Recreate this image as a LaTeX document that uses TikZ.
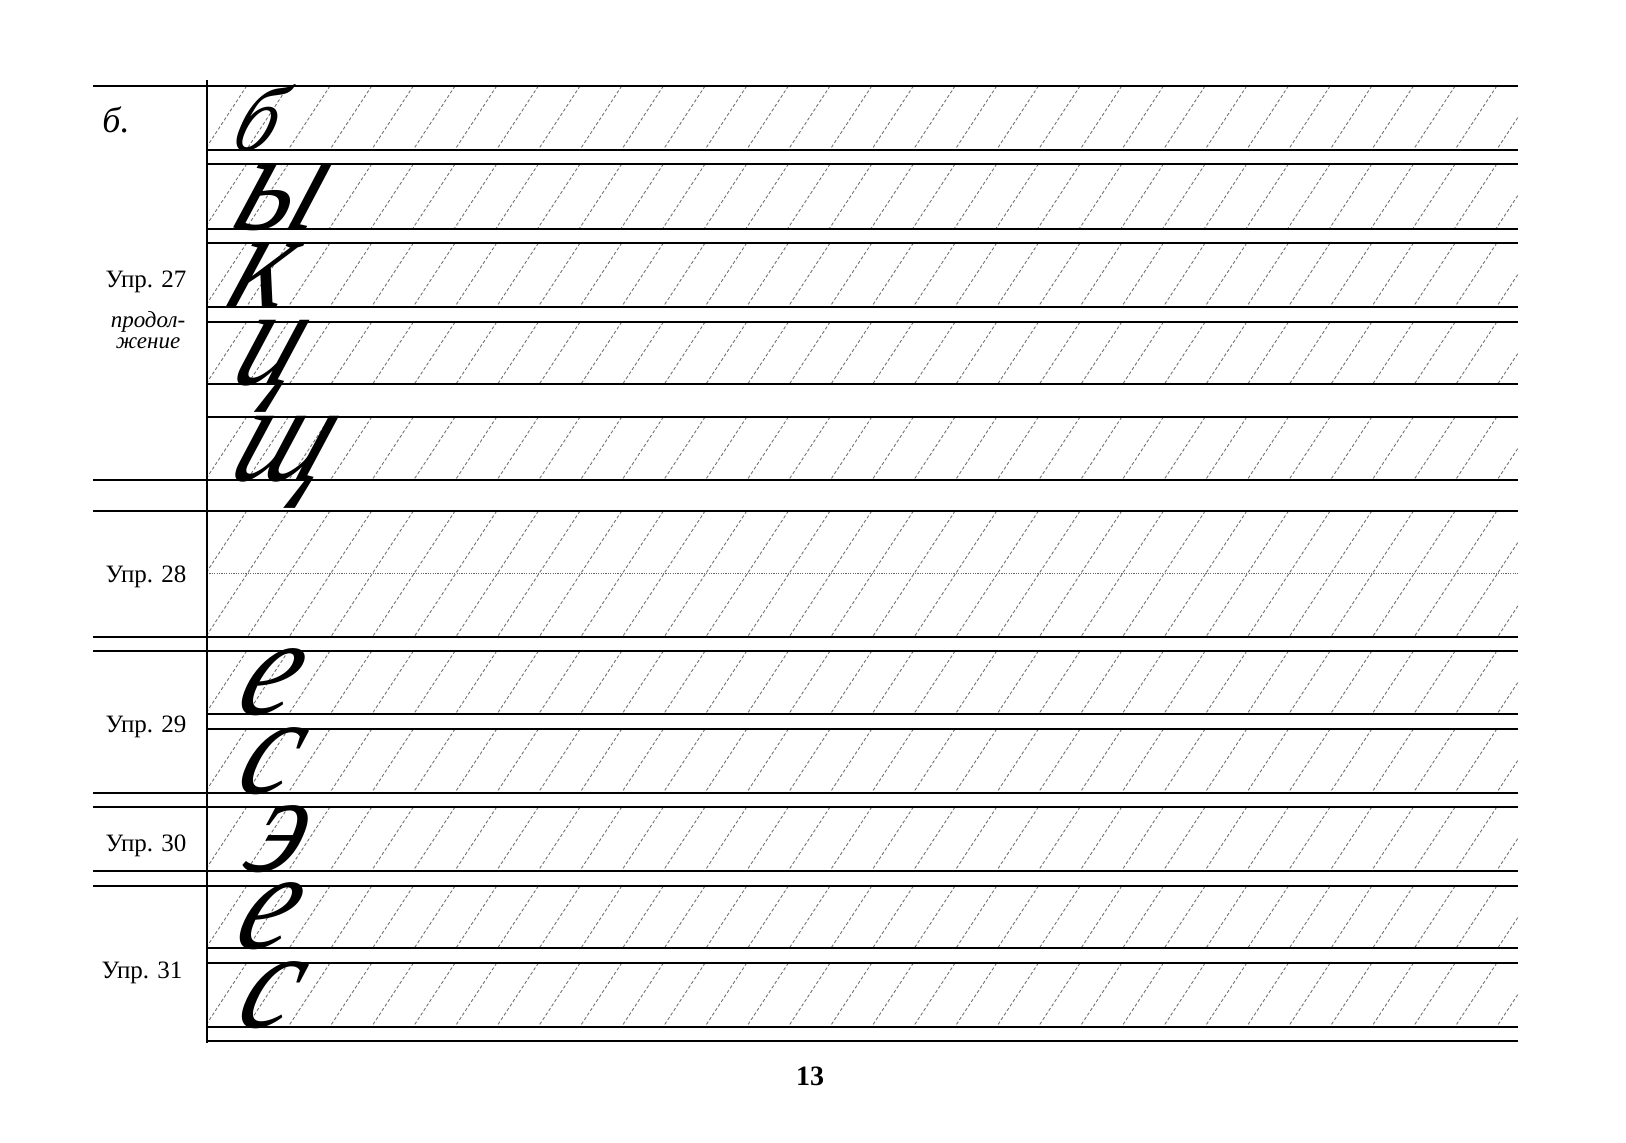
\documentclass[tikz,border=0pt]{standalone}
\usepackage{fontspec}
\setmainfont{Liberation Serif}
\begin{document}
\begin{tikzpicture}[x=0.5pt,y=-0.5pt,
  rule/.style={line width=1.1pt},
  guide/.style={black!55, line width=0.45pt, dash pattern=on 1.6pt off 1.1pt},
  exlabel/.style={anchor=base, inner sep=0, font=\fontsize{12.5}{12.5}\selectfont},
  copyletter/.style={anchor=base west, inner sep=0, xslant=0.38, xscale=0.88, font=\fontsize{70}{70}\selectfont\itshape}]
\useasboundingbox (0,0) rectangle (1626,1142);
% slanted guides, one clipped band per row
\foreach \t/\b in {86/150,164/229,243/307,322/384,417/480,511/637,651/714,729/793,807/871,886/948,963/1027}{
  \begin{scope}
    \clip (207,\t) rectangle (1518,\b);
    \foreach \k in {0,...,34}
      \draw[guide] ({205+41.67*\k},\t) -- ({205+41.67*\k-0.656*(\b-\t)},\b);
  \end{scope}
}
\draw[black!60, line width=0.5pt, dash pattern=on 0.6pt off 0.6pt] (207,573) -- (1518,573); % midline
% rules
\draw[rule] (207,80) -- (207,1043);
\foreach \y in {86,480,511,637,651,793,807,871,886}
  \draw[rule] (93,\y) -- (1518,\y);
\foreach \y in {150,164,229,243,307,322,384,417,714,729,948,963,1027,1041}
  \draw[rule] (207,\y) -- (1518,\y);
% labels
\node[anchor=base, font=\fontsize{18}{18}\selectfont\itshape] (sec) at (116,132) {б.};
\node[exlabel] (u27) at (146,287) {Упр. 27};
\node[align=center, inner sep=0, font=\fontsize{11.5}{10.5}\selectfont\itshape] (cont) at (148,330) {продол-\\жение};
\node[exlabel] (u28) at (146,582) {Упр. 28};
\node[exlabel] (u29) at (146,732) {Упр. 29};
\node[exlabel] (u30) at (146,851) {Упр. 30};
\node[exlabel] (u31) at (142,978) {Упр. 31};
\node[anchor=base, font=\fontsize{14}{14}\selectfont\bfseries] (page) at (810,1085) {13};
% model letters
\node[copyletter, font=\fontsize{46}{46}\selectfont\itshape] (lb) at (228,150) {б};
\node[copyletter] (ly) at (228,229) {ы};
\node[copyletter] (lk) at (222,307) {к};
\node[copyletter] (lc) at (228,384) {ц};
\node[copyletter] (lsh) at (226,480) {щ};
\node[copyletter] (le1) at (232,714) {е};
\node[copyletter] (ls1) at (232,793) {с};
\node[copyletter] (le2) at (240,871) {э};
\node[copyletter] (le3) at (230,948) {е};
\node[copyletter] (ls2) at (232,1027) {с};
\end{tikzpicture}
\end{document}
